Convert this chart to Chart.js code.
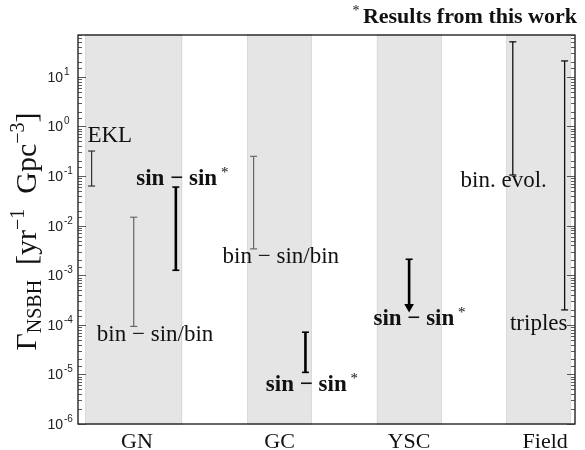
<!DOCTYPE html>
<html lang="en">
<head>
<meta charset="UTF-8">
<title>NSBH merger rates</title>
<script src="https://cdn.jsdelivr.net/npm/chart.js"></script>
<style>
    body { margin: 0; background: #fff; }
    #wrap { width: 585px; height: 450px; position: relative; }
</style>
</head>
<body>
<div id="wrap"><canvas id="rateChart"></canvas></div>
<script>
    // environments along the x axis, and the shaded band of each
    const categories = ['GN', 'GC', 'YSC', 'Field'];
    const categoryX = [0.8, 3, 5, 7.1];
    const bandFrom = [0, 2.5, 4.5, 6.5];
    const bandTo = [1.5, 3.5, 5.5, 7.5];

    // rate ranges, yr^-1 Gpc^-3
    const rateX = [0.1, 0.75, 1.4, 2.6, 3.4, 5.0, 6.6, 7.4];
    const rateLow = [0.063, 9.3e-5, 1.26e-3, 3.4e-3, 1.1e-5, 2.3e-4, 0.105, 2.0e-4];
    const rateHigh = [0.32, 0.0148, 0.060, 0.25, 7.1e-5, 2.1e-3, 51, 21];
    const rateKind = ['ekl', 'other', 'ours', 'other', 'ours', 'limit', 'field', 'field'];

    // notes written next to the ranges (x = centre, y = baseline)
    const noteText = ['EKL', 'bin − sin/bin', 'sin − sin', 'bin − sin/bin', 'sin − sin', 'sin − sin', 'bin. evol.', 'triples'];
    const noteX = [0.38, 1.08, 1.50, 3.02, 3.50, 5.16, 6.46, 7.0];
    const noteY = [0.49, 4.7e-5, 0.066, 1.8e-3, 4.6e-6, 9.8e-5, 0.060, 7.8e-5];
    const noteOurs = [false, false, true, false, true, true, false, false];

    const yMin = 1e-6, yMax = 70;

    const kindStyle = {
        ekl:   { color: '#333', width: 1.2, cap: 1.2 },
        other: { color: '#666', width: 1.2, cap: 1.2 },
        ours:  { color: '#000', width: 2.6, cap: 1.6 },
        limit: { color: '#000', width: 2.6, cap: 1.6 },
        field: { color: '#111', width: 1.3, cap: 1.3 }
    };

    const serif = '"Liberation Serif", serif';

    const datasets = rateX.map((x, i) => {
        const s = kindStyle[rateKind[i]];
        const arrow = rateKind[i] === 'limit';
        return {
            data: [{ x: x, y: rateHigh[i] }, { x: x, y: rateLow[i] }],
            showLine: true,
            borderColor: s.color,
            borderWidth: s.width,
            pointStyle: arrow ? ['line', 'triangle'] : 'line',
            pointRotation: arrow ? [0, 180] : 0,
            pointRadius: arrow ? [3.5, 4] : 3.5,
            pointHoverRadius: arrow ? [3.5, 4] : 3.5,
            pointBorderColor: s.color,
            pointBackgroundColor: s.color,
            pointBorderWidth: s.cap
        };
    });

    function isDecade(v) {
        const l = Math.log10(v);
        return Math.abs(l - Math.round(l)) < 1e-6;
    }

    const decorations = {
        id: 'decorations',
        beforeDatasetsDraw(chart) {
            const { ctx, chartArea: a, scales: { x } } = chart;
            ctx.save();
            bandFrom.forEach((f, i) => {
                const l = x.getPixelForValue(f);
                const r = x.getPixelForValue(bandTo[i]);
                ctx.fillStyle = '#e5e5e5';
                ctx.fillRect(l, a.top, r - l, a.bottom - a.top);
                ctx.strokeStyle = '#dadada';
                ctx.lineWidth = 1;
                ctx.strokeRect(Math.round(l) + 0.5, a.top, Math.round(r - l) - 1, a.bottom - a.top);
            });
            ctx.restore();
        },
        afterDatasetsDraw(chart) {
            const { ctx, scales: { x, y } } = chart;
            ctx.save();
            ctx.fillStyle = '#111';
            ctx.textBaseline = 'alphabetic';
            noteText.forEach((t, i) => {
                const px = x.getPixelForValue(noteX[i]);
                const py = y.getPixelForValue(noteY[i]);
                if (noteOurs[i]) {
                    ctx.font = 'bold 23px ' + serif;
                    const w1 = ctx.measureText(t).width;
                    ctx.font = '15px ' + serif;
                    const w2 = ctx.measureText(' *').width;
                    const start = px - (w1 + w2) / 2;
                    ctx.textAlign = 'left';
                    ctx.font = 'bold 23px ' + serif;
                    ctx.fillText(t, start, py);
                    ctx.font = '15px ' + serif;
                    ctx.fillText(' *', start + w1, py - 8);
                } else {
                    ctx.font = '23px ' + serif;
                    ctx.textAlign = 'center';
                    ctx.fillText(t, px, py);
                }
            });
            ctx.restore();
        },
        afterDraw(chart) {
            const { ctx, chartArea: a, scales: { y } } = chart;
            ctx.save();

            // frame
            ctx.strokeStyle = '#000';
            ctx.lineWidth = 1.2;
            ctx.strokeRect(a.left, a.top, a.right - a.left, a.bottom - a.top);

            // inward tick marks on both sides, labels on the left
            ctx.lineWidth = 0.8;
            ctx.strokeStyle = '#333';
            y.ticks.forEach(t => {
                if (t.value < yMin || t.value > yMax) return;
                const py = Math.round(y.getPixelForValue(t.value)) + 0.5;
                const major = isDecade(t.value);
                const len = major ? 8 : 4;
                ctx.beginPath();
                ctx.moveTo(a.left, py); ctx.lineTo(a.left + len, py);
                ctx.moveTo(a.right, py); ctx.lineTo(a.right - len, py);
                ctx.stroke();
                if (major) {
                    const e = Math.round(Math.log10(t.value));
                    ctx.fillStyle = '#222';
                    ctx.font = '14px "Liberation Sans", sans-serif';
                    ctx.textAlign = 'right';
                    ctx.textBaseline = 'middle';
                    ctx.fillText('10', 63, py + 1);
                    ctx.font = '10px "Liberation Sans", sans-serif';
                    ctx.textAlign = 'left';
                    ctx.fillText(e < 0 ? '-' + (-e) : String(e), 64, py - 5);
                }
            });

            // y axis title, built from pieces for the sub/superscripts
            const big = '30px ' + serif, small = '20px ' + serif;
            const pieces = [
                { t: 'Γ', f: big, dy: 0 },
                { t: 'NSBH', f: small, dy: 5 },
                { t: '  [yr', f: big, dy: 0 },
                { t: '−1', f: small, dy: -12 },
                { t: '  Gpc', f: big, dy: 0 },
                { t: '−3', f: small, dy: -12 },
                { t: ']', f: big, dy: 0 }
            ];
            let total = 0;
            pieces.forEach(p => { ctx.font = p.f; p.w = ctx.measureText(p.t).width; total += p.w; });
            ctx.translate(36, (a.top + a.bottom) / 2 + 2);
            ctx.rotate(-Math.PI / 2);
            ctx.fillStyle = '#111';
            ctx.textAlign = 'left';
            ctx.textBaseline = 'alphabetic';
            let cx = -total / 2;
            pieces.forEach(p => { ctx.font = p.f; ctx.fillText(p.t, cx, p.dy); cx += p.w; });
            ctx.setTransform(1, 0, 0, 1, 0, 0);

            // title in the top right corner
            ctx.fillStyle = '#111';
            ctx.textBaseline = 'alphabetic';
            ctx.textAlign = 'right';
            ctx.font = 'bold 22px ' + serif;
            const title = 'Results from this work';
            const tw = ctx.measureText(title).width;
            ctx.fillText(title, 577, 23);
            ctx.font = '14px ' + serif;
            ctx.fillText('* ', 577 - tw, 15);

            ctx.restore();
        }
    };

    new Chart(document.getElementById('rateChart'), {
        type: 'scatter',
        data: { datasets: datasets },
        options: {
            responsive: true,
            maintainAspectRatio: false,
            animation: false,
            layout: { padding: { top: 35, right: 10, left: 0, bottom: 0 } },
            plugins: { legend: { display: false }, tooltip: { enabled: false } },
            scales: {
                x: {
                    type: 'linear',
                    min: -0.11,
                    max: 7.56,
                    grid: { display: false, drawTicks: false },
                    border: { display: false },
                    afterBuildTicks: scale => { scale.ticks = categoryX.map(v => ({ value: v })); },
                    afterFit: scale => { scale.height = 26; },
                    ticks: {
                        autoSkip: false,
                        maxRotation: 0,
                        padding: 5,
                        color: '#111',
                        font: { family: 'Liberation Serif', size: 22 },
                        callback: (v, i) => categories[i]
                    }
                },
                y: {
                    type: 'logarithmic',
                    min: yMin,
                    max: yMax,
                    grid: { display: false, drawTicks: false },
                    border: { display: false },
                    afterFit: scale => { scale.width = 78; },
                    ticks: { display: false, autoSkip: false }
                }
            }
        },
        plugins: [decorations]
    });
</script>
</body>
</html>
